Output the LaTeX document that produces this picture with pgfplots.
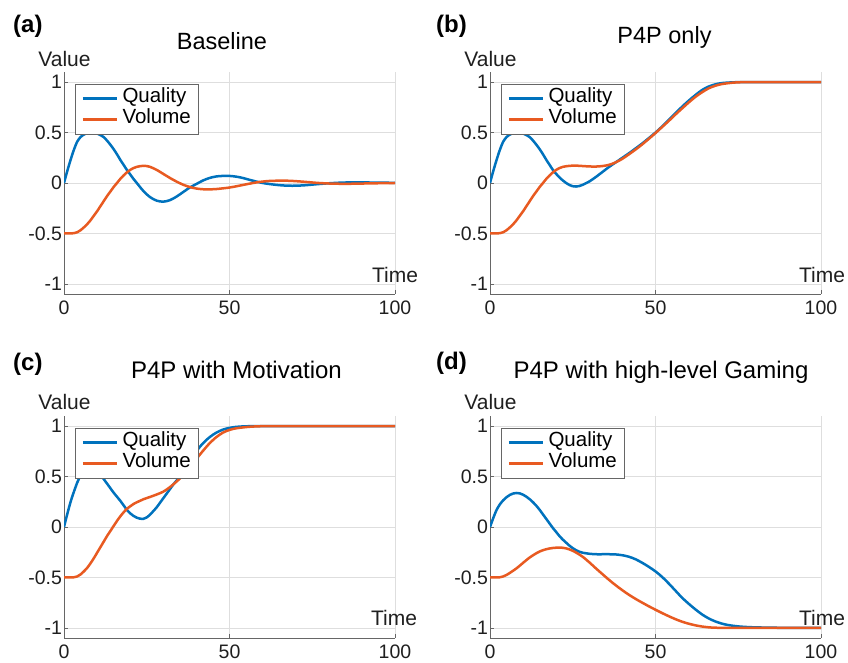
\documentclass[border=0pt]{standalone}
\usepackage{pgfplots}
\pgfplotsset{compat=1.18}
\usepackage{fontspec}
\setmainfont{Liberation Sans}
\definecolor{mblue}{RGB}{0,114,189}
\definecolor{morange}{RGB}{232,90,33}
\newcommand{\fs}[1]{\fontsize{#1}{#1}\selectfont}

\pgfplotsset{
  panel/.style={
    scale only axis, width=331pt, height=222pt, anchor=south west,
    xmin=0, xmax=100, ymin=-1.1, ymax=1.1,
    axis x line*=bottom, axis y line*=left,
    axis line style={black!60, line width=0.7pt},
    xtick={0,50,100}, xticklabels={0,50,100},
    ytick={-1,-0.5,0,0.5,1}, yticklabels={-1,-0.5,0,0.5,1},
    tick align=inside, major tick length=4pt,
    tick style={black!60, line width=0.7pt},
    grid=major, major grid style={black!13, line width=0.6pt},
    ticklabel style={font=\fs{19.5}, text=black!88},
    xticklabel style={yshift=-3pt},
    yticklabel style={xshift=1.5pt},
    legend style={at={(0.034,0.948)}, anchor=north west, draw=black!60, line width=0.7pt, fill=white,
      inner xsep=6pt, inner ysep=4pt, font=\fs{20.5},
      nodes={inner xsep=1.5pt, inner ysep=0pt, text height=15pt, text depth=6pt}, row sep=0pt,
      /tikz/every odd column/.append style={column sep=3pt}},
    legend cell align=left,
    legend image code/.code={\draw[#1, line width=2.4pt] (0pt,0pt) -- (34pt,0pt);},
    every axis legend/.append style={nodes={text=black}},
    every axis plot/.append style={line width=2.5pt, smooth, no markers},
  }
}

\begin{document}
\begin{tikzpicture}[x=1pt,y=1pt]
\path[use as bounding box] (0,0) rectangle (848,663);

% (a) Baseline
\begin{axis}[panel, at={(64pt,369pt)}]
\addplot[mblue] coordinates {(0,0)(1,0.12)(2,0.23)(3,0.33)(4,0.41)(5,0.455)(6,0.48)(7,0.495)(8,0.5)(9,0.5)(10,0.49)(11,0.475)(12,0.455)(13,0.42)(14,0.38)(15,0.335)(16,0.285)(17,0.23)(18,0.18)(19,0.13)(20,0.085)(21,0.04)(22,0.0)(24,-0.08)(26,-0.14)(28,-0.175)(30,-0.185)(32,-0.17)(34,-0.135)(36,-0.09)(38,-0.045)(40,-0.01)(42,0.025)(44,0.05)(46,0.065)(48,0.07)(50,0.07)(52,0.063)(54,0.05)(56,0.032)(58,0.015)(60,0.0)(62,-0.01)(64,-0.018)(66,-0.024)(68,-0.027)(70,-0.027)(73,-0.022)(76,-0.013)(80,-0.003)(84,0.004)(88,0.006)(92,0.005)(96,0.003)(100,0.002)};
\addplot[morange] coordinates {(0,-0.5)(2,-0.5)(3,-0.497)(4,-0.488)(5,-0.468)(6,-0.44)(7,-0.408)(8,-0.37)(9,-0.325)(10,-0.28)(11,-0.23)(12,-0.18)(13,-0.13)(14,-0.085)(15,-0.04)(16,0.0)(17,0.04)(18,0.075)(19,0.105)(20,0.13)(21,0.148)(22,0.16)(23,0.167)(24,0.17)(25,0.168)(26,0.16)(28,0.13)(30,0.09)(32,0.05)(34,0.014)(36,-0.017)(38,-0.04)(40,-0.055)(42,-0.062)(44,-0.063)(46,-0.06)(48,-0.053)(50,-0.045)(52,-0.033)(54,-0.02)(56,-0.007)(58,0.005)(60,0.014)(62,0.02)(65,0.023)(68,0.022)(71,0.016)(74,0.008)(77,0.0)(80,-0.005)(84,-0.008)(88,-0.007)(92,-0.004)(96,-0.002)(100,0)};
\legend{Quality,Volume}
\end{axis}

% (b) P4P only
\begin{axis}[panel, at={(490pt,369pt)}]
\addplot[mblue] coordinates {(0,0)(1,0.12)(2,0.23)(3,0.33)(4,0.41)(5,0.455)(6,0.48)(7,0.495)(8,0.5)(9,0.5)(10,0.49)(11,0.475)(12,0.455)(13,0.42)(14,0.38)(15,0.335)(16,0.285)(17,0.23)(18,0.18)(19,0.13)(20,0.09)(21,0.055)(22,0.025)(23,0.0)(24,-0.02)(25,-0.032)(26,-0.035)(27,-0.03)(28,-0.018)(30,0.015)(32,0.06)(34,0.11)(36,0.16)(38,0.205)(40,0.25)(42,0.295)(44,0.343)(46,0.392)(48,0.445)(50,0.5)(52,0.56)(54,0.625)(56,0.69)(58,0.755)(60,0.815)(62,0.87)(64,0.92)(66,0.955)(68,0.977)(70,0.99)(73,0.997)(76,1)(80,1)(90,1)(100,1)};
\addplot[morange] coordinates {(0,-0.5)(2,-0.5)(3,-0.497)(4,-0.488)(5,-0.468)(6,-0.44)(7,-0.408)(8,-0.37)(9,-0.325)(10,-0.28)(11,-0.23)(12,-0.18)(13,-0.13)(14,-0.085)(15,-0.04)(16,0.0)(17,0.04)(18,0.075)(19,0.105)(20,0.13)(21,0.148)(22,0.16)(24,0.17)(26,0.172)(28,0.168)(30,0.164)(32,0.163)(34,0.168)(36,0.18)(38,0.205)(40,0.24)(42,0.285)(44,0.332)(46,0.383)(48,0.438)(50,0.495)(52,0.555)(54,0.615)(56,0.678)(58,0.738)(60,0.797)(62,0.852)(64,0.898)(66,0.937)(68,0.963)(70,0.98)(73,0.993)(76,0.999)(80,1)(90,1)(100,1)};
\legend{Quality,Volume}
\end{axis}

% (c) P4P with Motivation
\begin{axis}[panel, at={(64pt,25pt)}]
\addplot[mblue] coordinates {(0,0)(1,0.13)(2,0.25)(3,0.35)(4,0.44)(5,0.51)(6,0.56)(7,0.59)(8,0.6)(9,0.59)(10,0.56)(11,0.52)(12,0.475)(13,0.43)(14,0.385)(15,0.34)(16,0.3)(17,0.26)(18,0.215)(19,0.17)(20,0.135)(21,0.11)(22,0.092)(23,0.082)(24,0.081)(25,0.095)(26,0.123)(27,0.158)(28,0.195)(29,0.24)(30,0.285)(31,0.33)(32,0.375)(33,0.42)(34,0.46)(35,0.5)(36,0.545)(38,0.64)(40,0.75)(42,0.83)(44,0.89)(46,0.935)(48,0.965)(50,0.982)(52,0.992)(55,0.998)(60,1)(70,1)(80,1)(90,1)(100,1)};
\addplot[morange] coordinates {(0,-0.5)(2,-0.5)(3,-0.498)(4,-0.49)(5,-0.47)(6,-0.44)(7,-0.405)(8,-0.36)(9,-0.31)(10,-0.255)(11,-0.2)(12,-0.145)(13,-0.09)(14,-0.04)(15,0.01)(16,0.06)(17,0.105)(18,0.145)(19,0.18)(20,0.205)(21,0.228)(22,0.245)(23,0.26)(24,0.275)(26,0.298)(28,0.322)(30,0.35)(32,0.395)(34,0.45)(35,0.48)(36,0.515)(38,0.59)(40,0.675)(42,0.755)(44,0.83)(46,0.89)(48,0.935)(50,0.962)(52,0.978)(55,0.99)(58,0.997)(62,1)(70,1)(80,1)(90,1)(100,1)};
\legend{Quality,Volume}
\end{axis}

% (d) P4P with high-level Gaming
\begin{axis}[panel, at={(490pt,25pt)}]
\addplot[mblue] coordinates {(0,0)(1,0.09)(2,0.17)(3,0.225)(4,0.265)(5,0.295)(6,0.318)(7,0.332)(8,0.337)(9,0.333)(10,0.32)(11,0.3)(12,0.275)(13,0.245)(14,0.21)(15,0.17)(16,0.125)(17,0.08)(18,0.035)(19,-0.01)(20,-0.05)(21,-0.09)(22,-0.125)(23,-0.155)(24,-0.185)(25,-0.21)(26,-0.23)(27,-0.245)(28,-0.255)(30,-0.265)(32,-0.27)(34,-0.27)(36,-0.27)(38,-0.272)(40,-0.28)(42,-0.295)(44,-0.32)(46,-0.355)(48,-0.395)(50,-0.44)(52,-0.495)(54,-0.56)(56,-0.63)(58,-0.7)(60,-0.76)(62,-0.815)(64,-0.865)(66,-0.905)(68,-0.935)(70,-0.957)(72,-0.972)(75,-0.985)(78,-0.992)(82,-0.996)(86,-0.998)(90,-1)(100,-1)};
\addplot[morange] coordinates {(0,-0.5)(2,-0.5)(3,-0.498)(4,-0.49)(5,-0.475)(6,-0.455)(7,-0.433)(8,-0.41)(9,-0.383)(10,-0.355)(11,-0.328)(12,-0.302)(13,-0.28)(14,-0.26)(15,-0.243)(16,-0.23)(17,-0.22)(18,-0.213)(19,-0.208)(20,-0.205)(21,-0.204)(22,-0.206)(23,-0.212)(24,-0.222)(25,-0.236)(26,-0.253)(27,-0.273)(28,-0.295)(30,-0.35)(32,-0.41)(34,-0.468)(36,-0.525)(38,-0.578)(40,-0.627)(42,-0.672)(44,-0.713)(46,-0.75)(48,-0.786)(50,-0.82)(52,-0.853)(54,-0.884)(56,-0.913)(58,-0.938)(60,-0.958)(62,-0.974)(64,-0.986)(66,-0.994)(68,-0.998)(72,-1)(80,-1)(90,-1)(100,-1)};
\legend{Quality,Volume}
\end{axis}

% panel letters
\node[anchor=base west, inner sep=0pt, font=\fs{24}\bfseries] at (13,630) {(a)};
\node[anchor=base west, inner sep=0pt, font=\fs{24}\bfseries] at (436,630) {(b)};
\node[anchor=base west, inner sep=0pt, font=\fs{24}\bfseries] at (13,292) {(c)};
\node[anchor=base west, inner sep=0pt, font=\fs{24}\bfseries] at (436,293) {(d)};
% titles
\node[anchor=base, inner sep=0pt, font=\fs{23.5}] at (222,613) {Baseline};
\node[anchor=base, inner sep=0pt, font=\fs{23.5}] at (664.5,619) {P4P only};
\node[anchor=base, inner sep=0pt, font=\fs{24}] at (236.5,284) {P4P with Motivation};
\node[anchor=base, inner sep=0pt, font=\fs{24}] at (661,284) {P4P with high-level Gaming};
% Value labels
\node[anchor=base, inner sep=0pt, font=\fs{21}, text=black!88] at (64.5,596) {Value};
\node[anchor=base, inner sep=0pt, font=\fs{21}, text=black!88] at (490.5,596) {Value};
\node[anchor=base, inner sep=0pt, font=\fs{21}, text=black!88] at (64.5,253) {Value};
\node[anchor=base, inner sep=0pt, font=\fs{21}, text=black!88] at (490.5,253) {Value};
% Time labels
\node[anchor=base, inner sep=0pt, font=\fs{21}, text=black!88] at (395,380) {Time};
\node[anchor=base, inner sep=0pt, font=\fs{21}, text=black!88] at (822,380) {Time};
\node[anchor=base, inner sep=0pt, font=\fs{21}, text=black!88] at (394,37) {Time};
\node[anchor=base, inner sep=0pt, font=\fs{21}, text=black!88] at (822,37) {Time};
\end{tikzpicture}
\end{document}
